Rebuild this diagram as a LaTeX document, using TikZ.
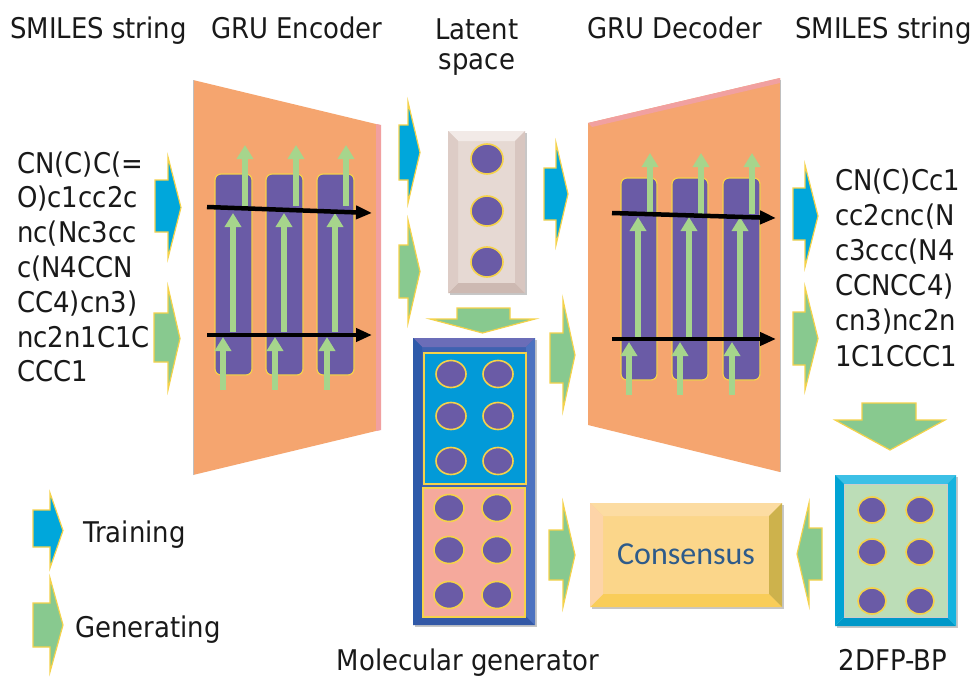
\documentclass[tikz,border=0pt]{standalone}
\usepackage{fontspec}
\setmainfont{DejaVu Sans}[FakeStretch=0.91]
\newfontfamily\calib{Carlito}
\usetikzlibrary{arrows.meta}
\definecolor{orng}{HTML}{F5A56F}
\definecolor{orngE}{HTML}{F1A0A0}
\definecolor{purp}{HTML}{6A5BA6}
\definecolor{ylw}{HTML}{F5D24A}
\definecolor{lgrn}{HTML}{A6D58C}
\definecolor{bluA}{HTML}{00A7DB}
\definecolor{grnA}{HTML}{88C98F}
\definecolor{latF}{HTML}{E6D9D3}
\definecolor{latT}{HTML}{F2EAE7}
\definecolor{latL}{HTML}{DDCCC6}
\definecolor{latR}{HTML}{D8C6C0}
\definecolor{latB}{HTML}{CDB9B2}
\definecolor{genF}{HTML}{3F62B0}
\definecolor{genT}{HTML}{6B6DB8}
\definecolor{genL}{HTML}{2E5AAA}
\definecolor{genR}{HTML}{4C72C0}
\definecolor{genB}{HTML}{3358A6}
\definecolor{fpF}{HTML}{BCDDB7}
\definecolor{fpT}{HTML}{3CC0E6}
\definecolor{fpL}{HTML}{00A3D4}
\definecolor{fpR}{HTML}{14B3DF}
\definecolor{fpB}{HTML}{0098C9}
\definecolor{conF}{HTML}{FBD68A}
\definecolor{conT}{HTML}{FCDCA2}
\definecolor{conL}{HTML}{FDD4A8}
\definecolor{conR}{HTML}{CDB24C}
\definecolor{conB}{HTML}{F9CD59}
\definecolor{upperC}{HTML}{029AD8}
\definecolor{lowerC}{HTML}{F5A99C}
\definecolor{consT}{HTML}{2E5B8A}
% block arrow: colour, x body end, x head base, x tip, y body top, y body bottom, y head top, y head bottom
\newcommand\rblk[8]{%
  \filldraw[blk, fill=#1] (#2,#5) -- (#3,#5) -- (#3,#7) -- (#4,{(#7+#8)/2}) -- (#3,#8) -- (#3,#6) -- (#2,#6) -- cycle;}
% down block arrow: colour, x body left, x body right, y body top, y head base, x head left, x head right, y tip
\newcommand\dblk[8]{%
  \filldraw[blk, fill=#1] (#2,#4) -- (#3,#4) -- (#3,#5) -- (#7,#5) -- ({(#6+#7)/2},#8) -- (#6,#5) -- (#2,#5) -- cycle;}
% bevelled box: x1,y1,x2,y2,bevel,colour prefix
\newcommand\bevel[6]{%
  \fill[black!22] ({#1+2},{#2+2}) rectangle ({#3+2},{#4+2});
  \fill[#6F] (#1,#2) rectangle (#3,#4);
  \fill[#6T] (#1,#2) -- (#3,#2) -- ({#3-#5},{#2+#5}) -- ({#1+#5},{#2+#5}) -- cycle;
  \fill[#6B] (#1,#4) -- (#3,#4) -- ({#3-#5},{#4-#5}) -- ({#1+#5},{#4-#5}) -- cycle;
  \fill[#6L] (#1,#2) -- ({#1+#5},{#2+#5}) -- ({#1+#5},{#4-#5}) -- (#1,#4) -- cycle;
  \fill[#6R] (#3,#2) -- ({#3-#5},{#2+#5}) -- ({#3-#5},{#4-#5}) -- (#3,#4) -- cycle;}
\tikzset{
  txt/.style={font=\fontsize{28.5}{34}\selectfont, inner sep=0pt, text=black!90},
  cellbox/.style={draw=ylw, line width=1.2pt, fill=purp, rounded corners=6pt, inner sep=0pt},
  garr/.style={draw=lgrn, line width=6pt, -{Triangle[width=16pt,length=14pt]}},
  karr/.style={draw=black, line width=4.5pt, -{Triangle[width=13pt,length=16pt]}},
  dot/.style={fill=purp, draw=ylw, line width=1.6pt},
  blk/.style={draw=ylw, line width=1.2pt, line join=miter},
}
\begin{document}
\begin{tikzpicture}[x=1pt,y=-1pt]
\useasboundingbox (0,0) rectangle (974,677);
\fill[white] (0,0) rectangle (974,677);

% headers
\node[txt, anchor=base west] (h1) at (10,38) {SMILES string};
\node[txt, anchor=base west] (h2) at (211,38) {GRU Encoder};
\node[txt, anchor=base] (h3) at (477,40) {Latent};
\node[txt, anchor=base] (h3b) at (477,70) {space};
\node[txt, anchor=base west] (h4) at (587,38) {GRU Decoder};
\node[txt, anchor=base west] (h5) at (795,38) {SMILES string};

% input SMILES
\foreach \t [count=\i] in {{CN(C)C(=},{O)c1cc2c},{nc(Nc3cc},{c(N4CCN},{CC4)cn3)},{nc2n1C1C},{CCC1}}
  \node[txt, anchor=base west] (in\i) at (17,{173+34.8*(\i-1)}) {\t};
% output SMILES
\foreach \t [count=\i] in {{CN(C)Cc1},{cc2cnc(N},{c3ccc(N4},{CCNCC4)},{cn3)nc2n},{1C1CCC1}}
  \node[txt, anchor=base west] (out\i) at (835,{190+35.2*(\i-1)}) {\t};

% input arrows
\rblk{bluA}{155}{168}{181}{180}{232}{157}{258}
\rblk{grnA}{154}{168}{180}{313}{362}{287}{390}

% encoder
\fill[orng] (193,80) -- (380,125) -- (380,430) -- (193,475) -- cycle;
\fill[orngE] (376,124) -- (381,125) -- (381,430) -- (376,431) -- cycle;
\draw[black!25, line width=0.8pt] (193,80) -- (193,475);
\node[cellbox, minimum width=37pt, minimum height=201pt] (e1) at (233.5,274.5) {};
\node[cellbox, minimum width=37pt, minimum height=201pt] (e2) at (284.5,274.5) {};
\node[cellbox, minimum width=37pt, minimum height=201pt] (e3) at (335.5,274.5) {};
\foreach \a/\b/\c in {233/245/223, 284/296/275, 335/346/327}{
  \draw[garr] (\a,332) -- (\a,213);
  \draw[garr] (\b,206) -- (\b,145);
  \draw[garr] (\c,390) -- (\c,337);
}
\draw[karr] (207,207) -- (372,213);
\draw[karr] (207,335) -- (372,335);

% encoder -> latent
\rblk{bluA}{399}{408}{420}{125}{180}{102}{203}
\rblk{grnA}{399}{408}{420}{245}{298}{220}{323}

% latent box
\bevel{448}{131}{525}{293}{10}{lat}
\node[inner sep=0pt, minimum width=77pt, minimum height=162pt] (latent) at (486.5,212) {};
\foreach \y in {159,211,262} \draw[dot] (487,\y) ellipse [x radius=16, y radius=15];

% latent -> generator
\dblk{grnA}{457}{510}{308}{319}{430}{535}{333}

% molecular generator
\bevel{413}{338}{535}{625}{9}{gen}
\node[inner sep=0pt, minimum width=122pt, minimum height=287pt] (gen) at (474,481.5) {};
\filldraw[fill=upperC, draw=ylw, line width=1.2pt] (424,353) rectangle (526,484);
\filldraw[fill=lowerC, draw=ylw, line width=1.2pt] (423,488) rectangle (525,617);
\foreach \y in {374,416,461} {
  \draw[dot] (451,\y) ellipse [x radius=15, y radius=13.5];
  \draw[dot] (498,\y) ellipse [x radius=15, y radius=13.5];}
\foreach \y in {508,550,595} {
  \draw[dot] (449,\y) ellipse [x radius=15, y radius=13.5];
  \draw[dot] (497,\y) ellipse [x radius=15, y radius=13.5];}
\node[txt, anchor=base] (mglab) at (468,670) {Molecular generator};

% latent/generator -> decoder
\rblk{bluA}{544}{556}{568}{168}{220}{143}{245}
\rblk{grnA}{550}{563}{575}{333}{383}{300}{410}
\rblk{grnA}{549}{563}{575}{530}{580}{503}{607}

% decoder
\fill[orng] (588,123) -- (780,78) -- (780,472) -- (588,425) -- cycle;
\fill[orngE] (588,123) -- (780,78) -- (780,83) -- (592,127) -- cycle;
\draw[black!25, line width=0.8pt] (780,80) -- (780,472);
\node[cellbox, minimum width=36pt, minimum height=202pt] (d1) at (639,279) {};
\node[cellbox, minimum width=36pt, minimum height=202pt] (d2) at (690,279) {};
\node[cellbox, minimum width=37pt, minimum height=202pt] (d3) at (741.5,279) {};
\foreach \a/\b/\c in {638/650/629, 689/701/680, 740/752/732}{
  \draw[garr] (\a,338) -- (\a,217);
  \draw[garr] (\b,214) -- (\b,153);
  \draw[garr] (\c,395) -- (\c,342);
}
\draw[karr] (612,213) -- (776,218);
\draw[karr] (612,339) -- (776,339);

% decoder -> output
\rblk{bluA}{793}{805}{818}{188}{240}{165}{267}
\rblk{grnA}{793}{805}{818}{312}{365}{287}{390}

% output -> 2DFP-BP
\dblk{grnA}{862}{916}{403}{420}{835}{945}{450}

% 2DFP-BP
\bevel{835}{475}{956}{626}{9}{fp}
\draw[black!20, line width=0.6pt] (844,484) rectangle (947,617);
\node[inner sep=0pt, minimum width=121pt, minimum height=151pt] (fp) at (895.5,550.5) {};
\foreach \y in {510,552,601} {
  \draw[dot] (872,\y) ellipse [x radius=14, y radius=13];
  \draw[dot] (920,\y) ellipse [x radius=14, y radius=13];}
\node[txt, anchor=base] (fplab) at (893,670) {2DFP-BP};

% 2DFP-BP -> consensus
\rblk{grnA}{822}{809}{797}{528}{580}{503}{605}

% consensus
\bevel{590}{503}{782}{607}{13}{con}
\node[font=\calib\fontsize{32}{36}\selectfont, text=consT, inner sep=0pt] (cons) at (686,554) {Consensus};

% legend
\rblk{bluA}{33}{50}{63}{510}{547}{493}{568}
\node[txt, anchor=base west] (ltrain) at (83,542) {Training};
\rblk{grnA}{33}{50}{63}{603}{647}{578}{672}
\node[txt, anchor=base west] (lgen) at (75,637) {Generating};
\end{tikzpicture}
\end{document}
